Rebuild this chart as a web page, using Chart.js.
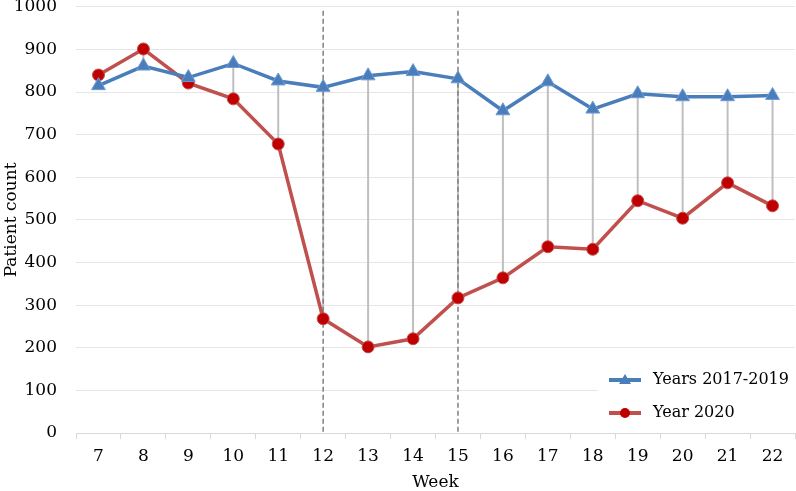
<!DOCTYPE html>
<html>
<head>
<meta charset="utf-8">
<script src="https://cdn.jsdelivr.net/npm/chart.js@4/dist/chart.umd.min.js"></script>
<style>
  html, body { margin: 0; padding: 0; background: #fff; }
  #wrap { width: 796px; height: 491px; }
</style>
</head>
<body>
<div id="wrap"><canvas id="chart" width="796" height="491"></canvas></div>
<script>
const weeks = ['7', '8', '9', '10', '11', '12', '13', '14', '15', '16', '17', '18', '19', '20', '21', '22'];
const years2017to2019 = [815, 861, 834, 867, 826, 811, 838, 848, 831, 756, 824, 760, 796, 789, 789, 792];
const year2020 = [840, 901, 821, 784, 678, 268, 202, 221, 317, 364, 437, 431, 545, 504, 587, 533];
const markedWeeks = ['12', '15'];

const font = { family: 'DejaVu Serif', size: 17 };
const yFont = { family: 'DejaVu Serif', size: 17, lineHeight: 0.8 };
const titleFont = { family: 'DejaVu Serif', size: 17, lineHeight: 1 };

// grey drop lines between the two series + dashed week markers
const dropLines = {
  id: 'dropLines',
  beforeDatasetsDraw(chart) {
    const ctx = chart.ctx;
    const x = chart.scales.x;
    const area = chart.chartArea;
    const a = chart.getDatasetMeta(0).data;
    const b = chart.getDatasetMeta(1).data;
    ctx.save();
    ctx.strokeStyle = '#bfbfbf';
    ctx.lineWidth = 2;
    for (let i = 0; i < a.length; i++) {
      ctx.beginPath();
      ctx.moveTo(a[i].x, a[i].y);
      ctx.lineTo(b[i].x, b[i].y);
      ctx.stroke();
    }
    ctx.strokeStyle = '#7f7f7f';
    ctx.lineWidth = 1.5;
    ctx.setLineDash([5, 3]);
    markedWeeks.forEach(w => {
      const px = x.getPixelForValue(weeks.indexOf(w));
      ctx.beginPath();
      ctx.moveTo(px, area.top + 4);
      ctx.lineTo(px, area.bottom);
      ctx.stroke();
    });
    ctx.restore();
  }
};

// legend box drawn inside plot, bottom right
const boxLegend = {
  id: 'boxLegend',
  afterDraw(chart) {
    const ctx = chart.ctx;
    const area = chart.chartArea;
    const left = 598, top = 362;
    ctx.save();
    ctx.fillStyle = '#fff';
    ctx.fillRect(left, top, area.right - left, area.bottom - top - 1);
    const rows = [380, 413];
    chart.data.datasets.forEach((ds, i) => {
      const y = rows[i];
      ctx.strokeStyle = ds.borderColor;
      ctx.lineWidth = 4;
      ctx.beginPath();
      ctx.moveTo(609, y);
      ctx.lineTo(641, y);
      ctx.stroke();
      ctx.fillStyle = ds.pointBackgroundColor;
      if (ds.pointStyle === 'triangle') {
        ctx.beginPath();
        ctx.moveTo(625, y - 6);
        ctx.lineTo(631, y + 4);
        ctx.lineTo(619, y + 4);
        ctx.closePath();
        ctx.fill();
      } else {
        ctx.beginPath();
        ctx.arc(625, y, 5, 0, Math.PI * 2);
        ctx.fill();
      }
      ctx.fillStyle = '#000';
      ctx.font = '16px "DejaVu Serif"';
      ctx.textBaseline = 'middle';
      ctx.fillText(ds.label, 653, y);
    });
    ctx.restore();
  }
};

new Chart(document.getElementById('chart'), {
  type: 'line',
  data: {
    labels: weeks,
    datasets: [
      {
        label: 'Years 2017-2019',
        data: years2017to2019,
        borderColor: '#4a7ebb',
        borderWidth: 3.5,
        pointStyle: 'triangle',
        pointRadius: 8,
        pointBackgroundColor: '#4a7ebb',
        pointBorderColor: '#6f9bd6',
        pointBorderWidth: 1,
        tension: 0
      },
      {
        label: 'Year 2020',
        data: year2020,
        borderColor: '#c0504d',
        borderWidth: 3.5,
        pointStyle: 'circle',
        pointRadius: 6,
        pointBackgroundColor: '#c00000',
        pointBorderColor: '#c0504d',
        pointBorderWidth: 1,
        tension: 0
      }
    ]
  },
  options: {
    responsive: false,
    animation: false,
    layout: { autoPadding: false, padding: { top: 0, right: 1, left: 3, bottom: 0 } },
    plugins: {
      legend: { display: false },
      tooltip: { enabled: false }
    },
    scales: {
      x: {
        offset: true,
        grid: { offset: true, drawOnChartArea: false, drawTicks: true, tickLength: 6, color: '#d9d9d9' },
        border: { color: '#d9d9d9' },
        ticks: { color: '#000', font: font, padding: 7, maxRotation: 0 },
        title: { display: true, text: 'Week', color: '#000', font: titleFont, padding: { top: 0, bottom: 0 } },
        afterFit: s => { s.height = 58; }
      },
      y: {
        min: 0,
        max: 1000,
        ticks: { stepSize: 100, color: '#000', font: yFont, padding: 0, callback: v => String(v) },
        grid: { color: '#e6e6e6', drawTicks: true, tickLength: 19, tickColor: 'rgba(0,0,0,0)' },
        border: { display: false },
        title: { display: true, text: 'Patient count', color: '#000', font: titleFont, padding: { top: 0, bottom: 0 } },
        afterFit: s => { s.width = 73; }
      }
    }
  },
  plugins: [dropLines, boxLegend]
});
</script>
</body>
</html>
